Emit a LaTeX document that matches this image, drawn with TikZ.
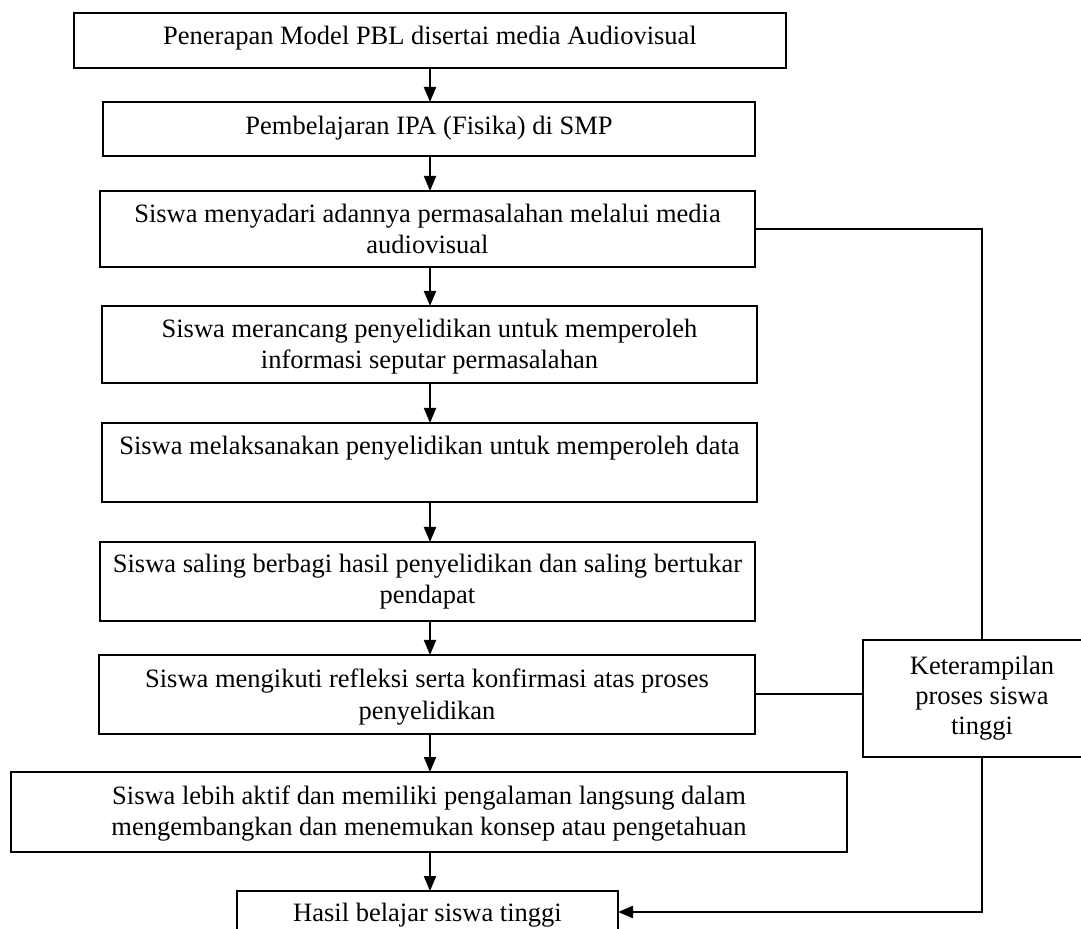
\documentclass[tikz,border=0pt]{standalone}
\usepackage{fontspec}
\setmainfont{Liberation Serif}
\usetikzlibrary{arrows.meta}
\newlength\pxu
\setlength\pxu{0.5pt}
% #1 width, #2 height, #3 first-baseline offset, #4 line spacing (all in px), #5 text
\newcommand\bxt[5]{\parbox[c][#2\pxu][t]{#1\pxu}{\fontsize{13.25}{#4\pxu}\selectfont\centering\rule{0pt}{#3\pxu}#5\par}}
\begin{document}
\begin{tikzpicture}[x=0.5pt,y=-0.5pt,
  fbox/.style={draw,line width=1pt,inner sep=0pt,outer sep=0pt,anchor=north west},
  conn/.style={line width=1pt},
  arr/.style={line width=1pt,-{Triangle[width=6pt,length=7.5pt]}}]
\fill[white] (0,0) rectangle (1081,929);
\useasboundingbox (0,0) rectangle (1081,929);
\node[fbox] (b1) at (74,13) {\bxt{712}{55}{32}{31}{Penerapan Model PBL disertai media Audiovisual}};
\node[fbox] (b2) at (103,102) {\bxt{652}{54}{33}{31}{Pembelajaran IPA (Fisika) di SMP}};
\node[fbox] (b3) at (100,191) {\bxt{655}{76}{32}{31}{Siswa menyadari adannya permasalahan melalui media\\audiovisual}};
\node[fbox] (b4) at (102,306) {\bxt{655}{77}{32}{31}{Siswa merancang penyelidikan untuk memperoleh\\informasi seputar permasalahan}};
\node[fbox] (b5) at (102,423) {\bxt{655}{79}{32}{31}{Siswa melaksanakan penyelidikan untuk memperoleh data}};
\node[fbox] (b6) at (100,542) {\bxt{655}{79}{31}{31}{Siswa saling berbagi hasil penyelidikan dan saling bertukar\\pendapat}};
\node[fbox] (b7) at (99,655) {\bxt{656}{79}{33}{31}{Siswa mengikuti refleksi serta konfirmasi atas proses\\penyelidikan}};
\node[fbox] (b8) at (11,772) {\bxt{836}{80}{32}{31}{Siswa lebih aktif dan memiliki pengalaman langsung dalam\\mengembangkan dan menemukan konsep atau pengetahuan}};
\node[fbox] (b9) at (237,891) {\bxt{381}{42}{30}{31}{Hasil belajar siswa tinggi}};
\node[fbox] (k) at (863,640) {\bxt{238}{117}{35}{30}{Keterampilan\\proses siswa\\tinggi}};
\coordinate (ax) at (430,0);
\foreach \a/\b in {b1/b2,b2/b3,b3/b4,b4/b5,b5/b6,b6/b7,b7/b8,b8/b9}
  \draw[arr] (\a.south -| ax) -- (\b.north -| ax);
\draw[conn] (b3.east) -| (k.north);
\draw[conn] (b7.east) -- (b7.east -| k.west);
\draw[arr] (k.south) |- (b9.east);
\end{tikzpicture}
\end{document}
